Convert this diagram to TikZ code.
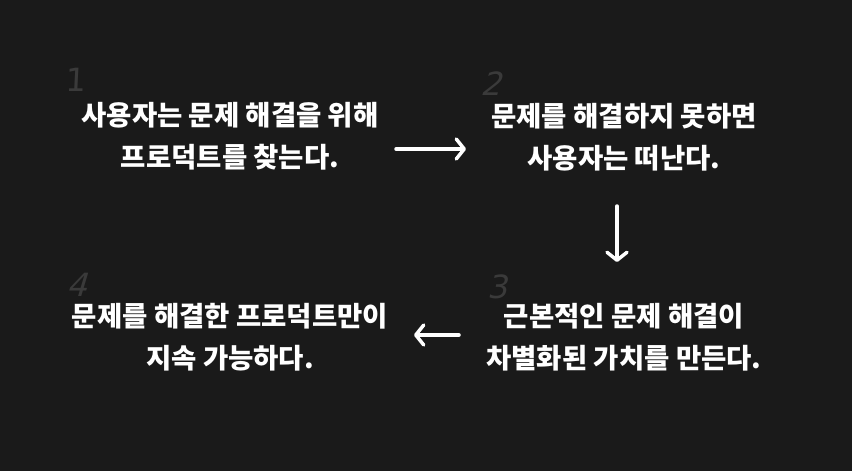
\documentclass[tikz,border=0pt]{standalone}
\usepackage{fontspec}
\newfontfamily\kr{Noto Sans CJK KR}[BoldFont={* Black}]
\newfontfamily\numfont{DejaVu Sans}
\usetikzlibrary{arrows.meta}
\definecolor{bg}{HTML}{1A1A1A}
\definecolor{numgray}{HTML}{3A3A3A}
\tikzset{
  txt/.style={text=white, font=\kr\bfseries\fontsize{27.5}{42}\selectfont, align=center, inner sep=0pt},
  num/.style={text=numgray, font=\numfont\fontsize{32}{32}\selectfont, inner sep=0pt},
  flow/.style={draw=white, line width=3.5pt, line cap=round, -{Straight Barb[length=8pt, width=20pt, line width=3.5pt, round]}}
}
\begin{document}
\begin{tikzpicture}[x=1pt,y=-1pt]
\fill[bg] (0,0) rectangle (852,471);
\useasboundingbox (0,0) rectangle (852,471);
\node[txt] (t1) at (230,136) {사용자는 문제 해결을 위해\\프로덕트를 찾는다.};
\node[txt] (t2) at (624,137) {문제를 해결하지 못하면\\사용자는 떠난다.};
\node[txt] (t3) at (624,337) {근본적인 문제 해결이\\차별화된 가치를 만든다.};
\node[txt] (t4) at (230,337) {문제를 해결한 프로덕트만이\\지속 가능하다.};
\node[num, xslant=0.05] (n1) at (76,80) {1};
\node[num, xslant=0.3] (n2) at (494,84) {2};
\node[num, xslant=0.2] (n3) at (500,287) {3};
\node[num, xslant=0.3] (n4) at (80,285) {4};
\coordinate (a1s) at (396,149);
\coordinate (a1e) at (466,149);
\coordinate (a2s) at (617,206);
\coordinate (a2e) at (617,262);
\coordinate (a3s) at (459,335);
\coordinate (a3e) at (414,335);
\draw[flow] (a1s) -- (a1e);
\draw[flow] (a2s) -- (a2e);
\draw[flow] (a3s) -- (a3e);
\end{tikzpicture}
\end{document}
